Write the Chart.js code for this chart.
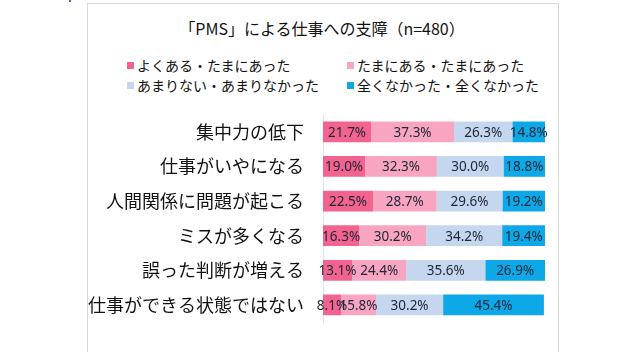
<!DOCTYPE html>
<html>
<head>
<meta charset="utf-8">
<script src="https://cdn.jsdelivr.net/npm/chart.js@4.4.0/dist/chart.umd.min.js"></script>
<style>
  html, body { margin: 0; padding: 0; background: #fff; }
  body { width: 630px; height: 352px; position: relative; overflow: hidden;
         font-family: "Noto Sans CJK JP", "Noto Sans", sans-serif; }
  #frame { position: absolute; left: 87px; top: 3px; width: 472px; height: 352px;
           border: 1px solid #d9d9d9; box-sizing: border-box; }
  #dot { position: absolute; left: 69px; top: 0px; width: 2px; height: 2px; background: #5a5ab0; }
  #title { position: absolute; left: 0; top: 16px; width: 644px; text-align: center;
           font-size: 16px; color: #111; white-space: nowrap; }
  .leg { position: absolute; font-size: 14px; color: #111; white-space: nowrap; line-height: 18px; }
  .leg i { position: absolute; left: -10px; top: 6px; width: 7px; height: 7px; }
  #wrap { position: absolute; left: 0; top: 0; width: 630px; height: 352px; }
</style>
</head>
<body>
<div id="frame"></div>
<div id="dot"></div>
<div id="title">「PMS」による仕事への支障（n=480）</div>
<div id="legend"></div>
<div id="wrap"><canvas id="chart"></canvas></div>
<script>
// 項目
const categories = ['集中力の低下', '仕事がいやになる', '人間関係に問題が起こる', 'ミスが多くなる', '誤った判断が増える', '仕事ができる状態ではない'];
const seriesNames = ['よくある・たまにあった', 'たまにある・たまにあった', 'あまりない・あまりなかった', '全くなかった・全くなかった'];
const seriesColors = ['#f2638f', '#f8a5c2', '#c4d7ee', '#0ca8e8'];

// 値 (%)
const often = [21.7, 19.0, 22.5, 16.3, 13.1, 8.1];
const sometimes = [37.3, 32.3, 28.7, 30.2, 24.4, 15.8];
const rarely = [26.3, 30.0, 29.6, 34.2, 35.6, 30.2];
const never = [14.8, 18.8, 19.2, 19.4, 26.9, 45.4];
const seriesValues = [often, sometimes, rarely, never];

// 凡例 (2列)
const legendPos = [[137, 56], [357, 56], [137, 76], [357, 76]];
const legendEl = document.getElementById('legend');
seriesNames.forEach(function(name, i) {
  const d = document.createElement('div');
  d.className = 'leg';
  d.style.left = legendPos[i][0] + 'px';
  d.style.top = legendPos[i][1] + 'px';
  d.innerHTML = '<i style="background:' + seriesColors[i] + '"></i>' + name;
  legendEl.appendChild(d);
});

// バーの中にラベルを描く
const valueLabels = {
  id: 'valueLabels',
  afterDatasetsDraw(chart) {
    const ctx = chart.ctx;
    ctx.save();
    ctx.font = '13.5px "Noto Sans", sans-serif';
    ctx.fillStyle = '#1e2633';
    ctx.textAlign = 'center';
    ctx.textBaseline = 'middle';
    chart.data.datasets.forEach(function(ds, i) {
      chart.getDatasetMeta(i).data.forEach(function(bar, j) {
        const cx = (bar.x + bar.base) / 2;
        ctx.fillText(ds.data[j].toFixed(1) + '%', cx, bar.y + 1);
      });
    });
    ctx.restore();
  }
};

new Chart(document.getElementById('chart'), {
  type: 'bar',
  data: {
    labels: categories,
    datasets: seriesValues.map(function(vals, i) {
      return {
        label: seriesNames[i],
        data: vals,
        backgroundColor: seriesColors[i],
        borderWidth: 0,
        categoryPercentage: 1,
        barPercentage: 0.6
      };
    })
  },
  options: {
    indexAxis: 'y',
    responsive: true,
    maintainAspectRatio: false,
    animation: false,
    layout: { padding: { top: 114.5, right: 85, bottom: 15.5, left: 0 } },
    plugins: {
      legend: { display: false },
      title: { display: false },
      tooltip: { enabled: false }
    },
    scales: {
      x: { stacked: true, min: 0, max: 100, display: false },
      y: {
        stacked: true,
        grid: { display: false, drawTicks: false },
        border: { display: true, color: '#e3e3e3' },
        ticks: {
          padding: 19,
          color: '#111',
          font: { family: '"Noto Sans CJK JP", sans-serif', size: 18 }
        },
        afterFit: function(scale) { scale.width = 323; }
      }
    }
  },
  plugins: [valueLabels]
});
</script>
</body>
</html>
